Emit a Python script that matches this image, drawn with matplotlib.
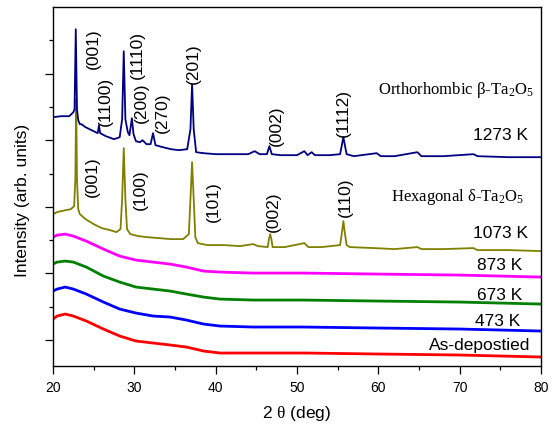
import matplotlib
matplotlib.use("Agg")
import matplotlib.pyplot as plt
from matplotlib.ticker import MultipleLocator, FixedLocator

plt.rcParams['font.family'] = ['Liberation Sans', 'DejaVu Sans']
plt.rcParams['mathtext.fontset'] = 'custom'
plt.rcParams['mathtext.rm'] = 'Liberation Serif'
plt.rcParams['mathtext.it'] = 'Liberation Serif:italic'

# ---------------- data (2theta in deg, intensity in arb. units) ----------------
tt_1273 = [20.0, 21.0, 22.0, 22.5, 22.65, 22.8, 22.95, 23.1, 23.3, 23.5, 24.0, 24.5, 25.0, 25.5,
           25.65, 25.8, 26.5, 27.5, 28.2, 28.5, 28.7, 28.9, 29.2, 29.4, 29.7, 29.9, 30.2, 30.7,
           31.0, 31.5, 32.0, 32.3, 32.6, 33.5, 34.5, 35.5, 36.5, 36.9, 37.1, 37.3, 37.6, 38.5,
           40.0, 42.0, 44.0, 44.8, 45.4, 46.3, 46.6, 46.9, 48.0, 50.0, 50.9, 51.3, 51.8, 52.2,
           54.0, 55.3, 55.7, 56.1, 57.0, 59.8, 60.3, 62.0, 64.8, 65.3, 68.0, 71.7, 72.2, 76.0, 80.0]
int_1273 = [249, 250, 250, 254, 257, 337, 257, 246, 242, 242, 239, 237, 235, 233,
            241, 233, 230, 227, 229, 247, 315, 247, 234, 231, 248, 232, 225, 224,
            226, 222, 222, 233, 221, 219, 217, 216, 217, 237, 282, 237, 214, 213,
            212, 212, 212, 215, 212, 212, 220, 212, 211, 211, 215, 211, 214, 211,
            211, 212, 229, 212, 210, 213, 210, 210, 214, 210, 210, 212, 210, 209, 209]

tt_1073 = [20.0, 20.5, 21.0, 21.6, 22.2, 22.6, 22.75, 22.85, 22.95, 23.1, 23.3, 24.0, 25.0, 26.0,
           27.0, 27.8, 28.3, 28.5, 28.7, 28.9, 29.1, 29.5, 30.5, 31.5, 33.0, 34.5, 36.0, 36.7,
           36.9, 37.1, 37.3, 37.5, 37.8, 39.0, 41.0, 43.0, 44.6, 45.2, 46.4, 46.55, 46.7, 46.85,
           47.0, 48.5, 50.9, 51.4, 53.0, 55.3, 55.55, 55.7, 55.85, 56.1, 56.5, 59.5, 62.0, 64.8,
           65.3, 68.0, 71.7, 72.2, 76.0, 80.0]
int_1073 = [152, 154, 155, 156, 157, 160, 187, 267, 187, 157, 152, 147, 142, 138,
            136, 134, 137, 167, 218, 167, 137, 132, 130, 129, 128, 127, 127, 132,
            167, 204, 167, 129, 123, 121, 121, 120, 122, 120, 119, 127, 132, 127,
            119, 119, 123, 119, 119, 121, 135, 145, 135, 121, 119, 118, 117, 119,
            117, 117, 118, 116, 116, 115]

tt_amorph = [20.0, 20.5, 21.5, 22.5, 24.1, 26.2, 28.2, 30.2, 32.3, 34.4, 36.4, 38.5, 40.5,
             44.6, 50.8, 60.0, 70.0, 80.0]
int_873 = [129, 131, 132, 130, 125, 117, 110, 106, 104, 102, 99, 95, 94, 93, 93, 92, 91, 89]
int_673 = [102, 104, 105, 104, 99, 90, 84, 79, 77, 75, 72, 69, 67, 66, 66, 65, 64, 62]
int_473 = [75, 77, 79, 77, 72, 64, 57, 53, 50, 49, 46, 42, 40, 39, 39, 38, 37, 35]
int_asdep = [47, 50, 52, 50, 45, 37, 30, 25, 23, 21, 19, 15, 13, 13, 13, 12, 11, 9]

sample_labels = ['1273 K', '1073 K', '873 K', '673 K', '473 K', 'As-depostied']
beta_hkl = ['(001)', '(1100)', '(1110)', '(200)', '(270)', '(201)', '(002)', '(1112)']
delta_hkl = ['(001)', '(100)', '(101)', '(002)', '(110)']
phase_labels = [r'Orthorhombic β-Ta$_2$O$_5$', r'Hexagonal δ-Ta$_2$O$_5$']

# ---------------- figure ----------------
fig = plt.figure(figsize=(5.52, 4.27), dpi=100)
ax = fig.add_axes([53 / 552, 1 - 367 / 427, 488 / 552, 359 / 427])

ax.plot(tt_amorph, int_asdep, color='#ff0000', lw=2.0)
ax.plot(tt_amorph, int_473, color='#0000ff', lw=2.0)
ax.plot(tt_amorph, int_673, color='#008000', lw=2.0)
ax.plot(tt_amorph, int_873, color='#ff00ff', lw=2.0)
ax.plot(tt_1073, int_1073, color='#808000', lw=1.3)
ax.plot(tt_1273, int_1273, color='#000080', lw=1.3)

ax.set_xlim(20, 80)
ax.set_ylim(0, 359.3)
ax.xaxis.set_major_locator(MultipleLocator(10))
ax.xaxis.set_minor_locator(MultipleLocator(5))
ax.yaxis.set_major_locator(FixedLocator([26 + 66.67 * k for k in range(6)]))
ax.yaxis.set_minor_locator(FixedLocator([59.3 + 66.67 * k for k in range(5)]))
ax.set_yticklabels([])
ax.tick_params(which='both', direction='out', top=False, right=False, width=0.9,
               labelsize=10, pad=4)
ax.tick_params(which='major', length=5.8)
ax.tick_params(which='minor', length=3)
for s in ax.spines.values():
    s.set_linewidth(1.0)

ax.set_xlabel(r'2 $\mathrm{\theta}$ (deg)', fontsize=12.5, va='center')
ax.xaxis.set_label_coords(0.5, -(414 - 367) / 359)
ax.set_ylabel('Intensity (arb. units)', fontsize=12.5, va='center')
ax.yaxis.set_label_coords((23 - 53) / 488, (367 - 200) / 359)

# peak indices
beta_pos = [(24.92, 319), (26.39, 266), (30.33, 312), (30.82, 264), (33.40, 254),
            (37.21, 304), (47.42, 241), (55.66, 254)]
delta_pos = [(24.80, 190), (30.70, 177), (39.67, 166), (47.05, 155), (55.90, 170)]
for lab, (x, y) in zip(beta_hkl, beta_pos):
    ax.text(x, y, lab, rotation=90, ha='center', va='center', fontsize=12.5)
for lab, (x, y) in zip(delta_hkl, delta_pos):
    ax.text(x, y, lab, rotation=90, ha='center', va='center', fontsize=12.5)

# sample labels
sample_pos = [(78.4, 232), (78.4, 134), (77.67, 102), (77.67, 72), (77.42, 46), (78.65, 22)]
for lab, (x, y) in zip(sample_labels, sample_pos):
    ax.text(x, y, lab, ha='right', va='center', fontsize=12.5)

phase_pos = [(79.14, 277), (77.9, 170)]
for lab, (x, y) in zip(phase_labels, phase_pos):
    ax.text(x, y, lab, ha='right', va='center', fontsize=12,
            family=['Liberation Serif', 'DejaVu Serif'])

fig.savefig('out.png', dpi=100)
